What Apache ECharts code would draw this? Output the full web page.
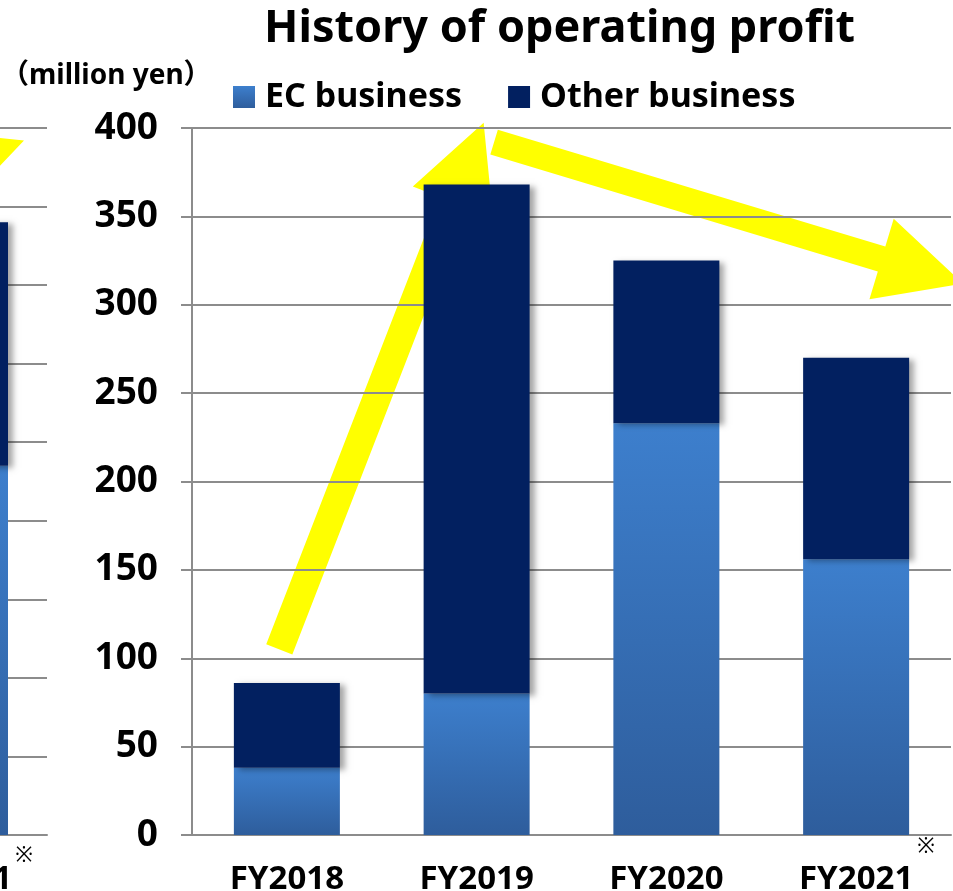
<!DOCTYPE html>
<html>
<head>
<meta charset="utf-8">
<script src="https://cdn.jsdelivr.net/npm/echarts@6/dist/echarts.min.js"></script>
<style>
  html, body { margin: 0; padding: 0; background: #fff; }
  #chart { width: 953px; height: 891px; }
</style>
</head>
<body>
<div id="chart"></div>
<script>
var categories = ['FY2018', 'FY2019', 'FY2020', 'FY2021'];
var ecBusiness = [38, 80, 233, 156];
var otherBusiness = [48, 288, 92, 114];
var yTicks = [0, 50, 100, 150, 200, 250, 300, 350, 400];

// neighbour chart cut off on the left edge
var prevCategories = ['FY2021'];
var prevEc = [235];
var prevOther = [155];

// arrows, as [category position, value] : tail, tip
var arrowUp = [[-0.04, 105], [1.037, 403]];
var arrowDown = [[1.092, 392], [3.563, 312]];

var FONT = '"Noto Sans", "Noto Sans CJK JP", sans-serif';
var gridColor = '#8c8c8c';
var ecColor = new echarts.graphic.LinearGradient(0, 0, 0, 1, [
  { offset: 0, color: '#3d7fcd' },
  { offset: 1, color: '#2e5d9c' }
]);
var otherColor = '#022060';
var shadow = { shadowBlur: 6, shadowOffsetX: 5, shadowOffsetY: 2, shadowColor: 'rgba(0,0,0,0.35)' };

var myChart = echarts.init(document.getElementById('chart'), null, { renderer: 'canvas' });

var option = {
  backgroundColor: '#fff',
  animation: false,
  title: [
    {
      text: 'History of operating profit',
      left: 264, top: 7, padding: 0,
      textStyle: { fontFamily: FONT, fontWeight: 'bold', fontSize: 45, color: '#000' }
    },
    {
      text: '（million yen）',
      left: 1, top: 62, padding: 0,
      textStyle: { fontFamily: FONT, fontWeight: 'bold', fontSize: 28, color: '#000' }
    }
  ],
  legend: {
    left: 228, top: 75,
    itemWidth: 22, itemHeight: 22, itemGap: 46,
    icon: 'rect',
    textStyle: { fontFamily: FONT, fontWeight: 'bold', fontSize: 34, color: '#000', padding: [0, 0, 0, 5] },
    data: ['EC business', 'Other business']
  },
  grid: [
    { left: 192, right: 2, top: 128, bottom: 56, outerBoundsMode: 'none' },
    { left: -137, width: 184, top: 128, bottom: 56, outerBoundsMode: 'none' }
  ],
  xAxis: [
    {
      type: 'category', gridIndex: 0, data: categories,
      axisLine: { lineStyle: { color: gridColor, width: 2 } },
      axisTick: { length: 11, lineStyle: { color: gridColor, width: 2 } },
      axisLabel: { margin: 28, fontFamily: FONT, fontWeight: 'bold', fontSize: 33, color: '#000' }
    },
    {
      type: 'category', gridIndex: 1, data: prevCategories,
      axisLine: { lineStyle: { color: gridColor, width: 2 } },
      axisTick: { length: 11, lineStyle: { color: gridColor, width: 2 } },
      axisLabel: { margin: 28, fontFamily: FONT, fontWeight: 'bold', fontSize: 33, color: '#000' }
    }
  ],
  yAxis: [
    {
      type: 'value', gridIndex: 0,
      min: yTicks[0], max: yTicks[yTicks.length - 1], interval: 50,
      axisLine: { show: true, lineStyle: { color: gridColor, width: 2 } },
      axisTick: { show: true, length: 11, lineStyle: { color: gridColor, width: 2 } },
      splitLine: { lineStyle: { color: gridColor, width: 2 } },
      axisLabel: { margin: 34, fontFamily: FONT, fontWeight: 'bold', fontSize: 37, color: '#000' }
    },
    {
      type: 'value', gridIndex: 1, min: 0, max: 450, interval: 50,
      axisLine: { show: false }, axisTick: { show: false }, axisLabel: { show: false },
      splitLine: { lineStyle: { color: gridColor, width: 2 } }
    }
  ],
  series: [
    {
      name: 'EC business', type: 'bar', stack: 'a', barWidth: 106,
      xAxisIndex: 0, yAxisIndex: 0, z: 3,
      itemStyle: Object.assign({ color: ecColor }, shadow),
      data: ecBusiness
    },
    {
      name: 'Other business', type: 'bar', stack: 'a', barWidth: 106,
      xAxisIndex: 0, yAxisIndex: 0, z: 3,
      itemStyle: Object.assign({ color: otherColor }, shadow),
      data: otherBusiness
    },
    {
      name: 'EC business', type: 'bar', stack: 'b', barWidth: 106,
      xAxisIndex: 1, yAxisIndex: 1, z: 3,
      itemStyle: Object.assign({ color: ecColor }, shadow),
      data: prevEc
    },
    {
      name: 'Other business', type: 'bar', stack: 'b', barWidth: 106,
      xAxisIndex: 1, yAxisIndex: 1, z: 3,
      itemStyle: Object.assign({ color: otherColor }, shadow),
      data: prevOther
    }
  ]
};

myChart.setOption(option);

function toPx(p) {
  var a = myChart.convertToPixel({ gridIndex: 0 }, [0, p[1]]);
  var b = myChart.convertToPixel({ gridIndex: 0 }, [1, p[1]]);
  return [a[0] + p[0] * (b[0] - a[0]), a[1]];
}

function arrowPoints(tail, tip, shaft, headLen, headHalf) {
  var dx = tip[0] - tail[0], dy = tip[1] - tail[1];
  var len = Math.sqrt(dx * dx + dy * dy);
  var ux = dx / len, uy = dy / len, nx = -uy, ny = ux;
  var bx = tip[0] - ux * headLen, by = tip[1] - uy * headLen;
  var s = shaft / 2;
  return [
    [tail[0] + nx * s, tail[1] + ny * s],
    [bx + nx * s, by + ny * s],
    [bx + nx * headHalf, by + ny * headHalf],
    tip,
    [bx - nx * headHalf, by - ny * headHalf],
    [bx - nx * s, by - ny * s],
    [tail[0] - nx * s, tail[1] - ny * s]
  ];
}

// left neighbour arrow (only its head shows), relative to that chart's category
var prevCenter = myChart.convertToPixel({ gridIndex: 1 }, [0, 0]);
var prevTip = myChart.convertToPixel({ gridIndex: 1 }, [0, 442]);
prevTip = [prevCenter[0] + 69, prevTip[1]];
var prevTail = [prevTip[0] - 470, prevTip[1] + 172];

var graphics = [
  { type: 'polygon', z: -1, shape: { points: arrowPoints(toPx(arrowUp[0]), toPx(arrowUp[1]), 28, 85, 43) }, style: { fill: '#ffff00' } },
  { type: 'polygon', z: -1, shape: { points: arrowPoints(toPx(arrowDown[0]), toPx(arrowDown[1]), 26, 85, 42) }, style: { fill: '#ffff00' } },
  { type: 'polygon', z: -1, shape: { points: arrowPoints(prevTail, prevTip, 26, 85, 42) }, style: { fill: '#ffff00' } }
];

// "※" marks next to the FY2021 labels
var last = myChart.convertToPixel({ gridIndex: 0 }, [categories.length - 1, 0]);
graphics.push({ type: 'text', z: 10, style: { text: '※', x: last[0] + 70, y: last[1] + 12, align: 'center', verticalAlign: 'middle', font: '21px ' + FONT, fill: '#000' } });
graphics.push({ type: 'text', z: 10, style: { text: '※', x: prevCenter[0] + 69, y: prevCenter[1] + 21, align: 'center', verticalAlign: 'middle', font: '21px ' + FONT, fill: '#000' } });

myChart.setOption({ graphic: graphics });
window.onresize = () => myChart.resize();
</script>
</body>
</html>
